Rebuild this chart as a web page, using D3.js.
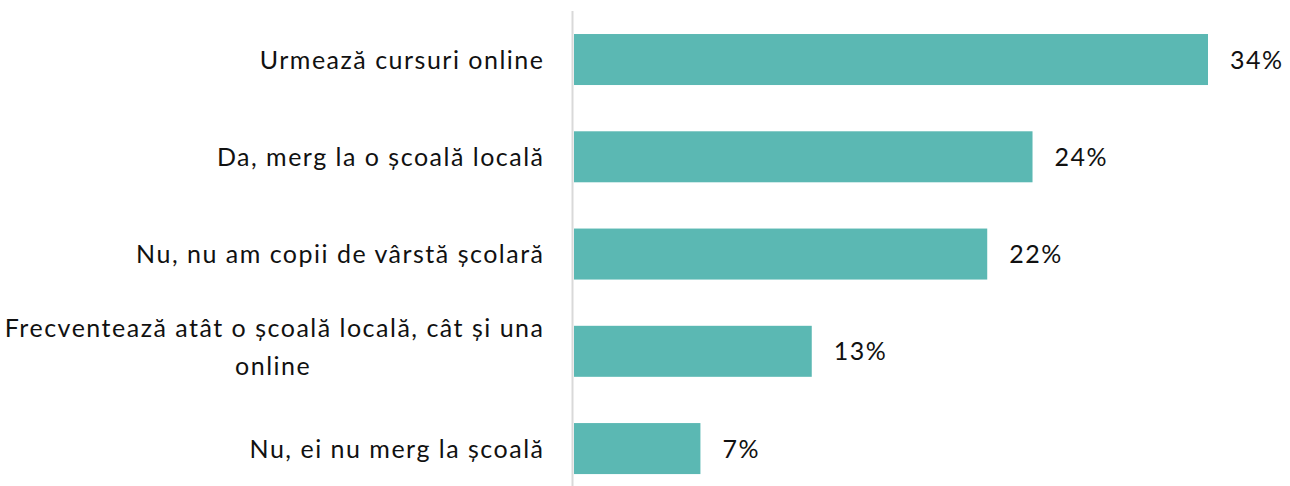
<!DOCTYPE html>
<html><head><meta charset="utf-8">
<script src="https://cdn.jsdelivr.net/npm/d3@7/dist/d3.min.js"></script>
<style>body{margin:0;background:#fff}svg{display:block}</style>
</head><body>
<script>
const categories = ["Urmează cursuri online","Da, merg la o școală locală","Nu, nu am copii de vârstă școlară","Frecventează atât o școală locală, cât și una online","Nu, ei nu merg la școală"];
const values = [33.6, 24.3, 21.9, 12.6, 6.7];
const valueLabels = ["34%","24%","22%","13%","7%"];
const wrapped = [["Urmează cursuri online"],["Da, merg la o școală locală"],["Nu, nu am copii de vârstă școlară"],["Frecventează atât o școală locală, cât și una","online"],["Nu, ei nu merg la școală"]];

const W=1290,H=486;
const svg=d3.select("body").append("svg").attr("width",W).attr("height",H);
const font="'Lato', 'Open Sans', sans-serif";
const fs=25, ls=1.5;
const x0=574;
const x=d3.scaleLinear().domain([0,33.6]).range([x0,1208]);
const y=d3.scaleBand().domain(categories).range([10.9,497.2]).paddingInner(0.4756).paddingOuter(0.2378);

svg.append("line").attr("x1",572.5).attr("x2",572.5).attr("y1",11).attr("y2",H).attr("stroke","#d9d9d9").attr("stroke-width",2);

svg.selectAll("rect.bar").data(categories).join("rect").attr("class","bar")
 .attr("x",x0).attr("y",d=>y(d)).attr("height",y.bandwidth())
 .attr("width",(d,i)=>x(values[i])-x0).attr("fill","#5bb8b3");

svg.selectAll("text.val").data(categories).join("text").attr("class","val")
 .attr("x",(d,i)=>x(values[i])+22).attr("y",d=>y(d)+y.bandwidth()/2).attr("dy","0.36em")
 .attr("font-family",font).attr("font-size",fs).attr("letter-spacing",ls).attr("fill","#111").text((d,i)=>valueLabels[i]);

const lh=38.3;
categories.forEach((c,i)=>{
  const lines=wrapped[i];
  const cy=y(c)+y.bandwidth()/2;
  const start=cy-(lines.length-1)*lh/2 - (lines.length-1)*4;
  const g=svg.append("g");
  const t0=g.append("text").attr("x",543+ls).attr("y",start).attr("dy","0.36em").attr("text-anchor","end")
    .attr("font-family",font).attr("font-size",fs).attr("letter-spacing",ls).attr("fill","#111").text(lines[0]);
  if(lines.length>1){
    const w=t0.node().getComputedTextLength();
    for(let k=1;k<lines.length;k++){
      g.append("text").attr("x",543-w/2).attr("y",start+k*lh).attr("dy","0.36em").attr("text-anchor","middle")
       .attr("font-family",font).attr("font-size",fs).attr("letter-spacing",ls).attr("fill","#111").text(lines[k]);
    }
  }
});
</script>
</body></html>
